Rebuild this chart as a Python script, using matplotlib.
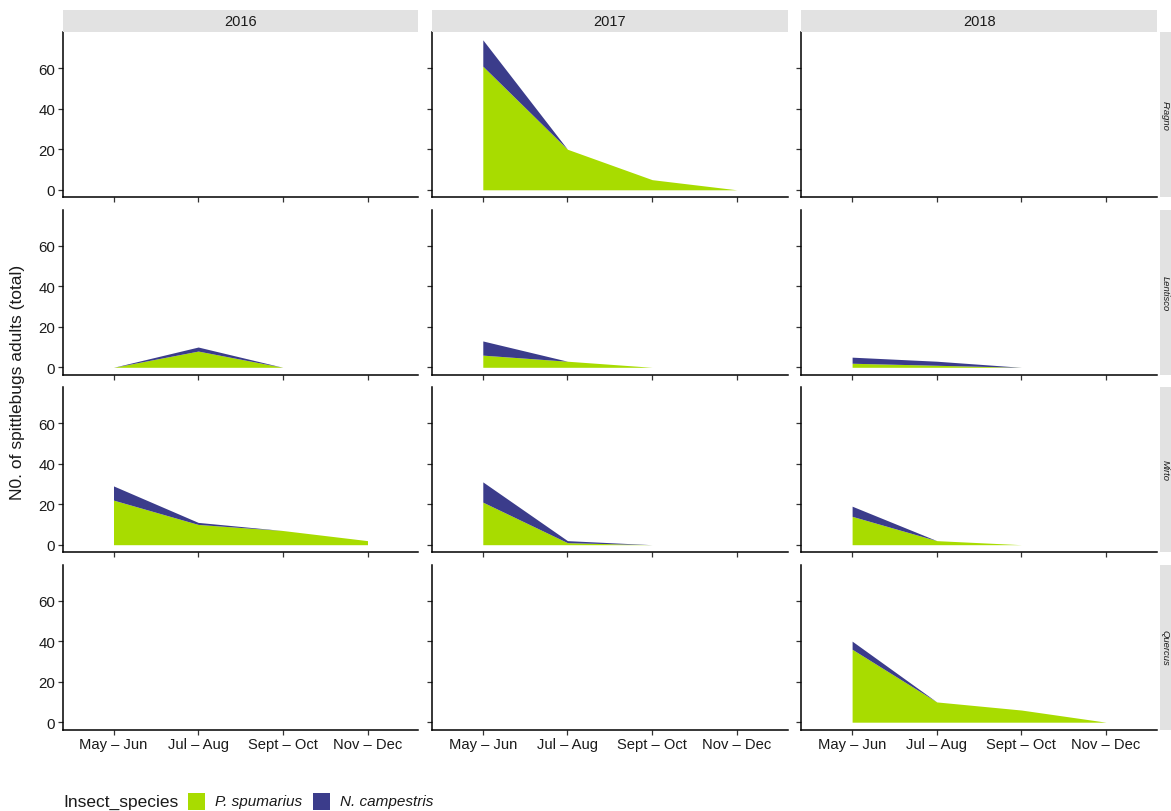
import numpy as np
import matplotlib
matplotlib.use("Agg")
import matplotlib.pyplot as plt
from matplotlib.patches import Rectangle

plt.rcParams['font.family'] = ['Liberation Sans', 'DejaVu Sans']

# ---------------- data ----------------
sites = ["Fragno", "Lentisco", "Mirto", "Quercus"]
years = ["2016", "2017", "2018"]
periods = ["May – Jun", "Jul – Aug", "Sept – Oct", "Nov – Dec"]
species = ["P. spumarius", "N. campestris"]
nan = np.nan

# P. spumarius counts per site/year (nan = no sample)
fragno_2017_p = [61, 20, 5, 0]
lentisco_2016_p = [0, 8, 0, nan]
lentisco_2017_p = [6, 3, 0, nan]
lentisco_2018_p = [2, 1, 0, nan]
mirto_2016_p = [22, 10, 7, 2]
mirto_2017_p = [21, 1, 0, nan]
mirto_2018_p = [14, 2, 0, nan]
quercus_2018_p = [36, 10, 6, 0]

# N. campestris counts per site/year
fragno_2017_n = [13, 0, 0, 0]
lentisco_2016_n = [0, 2, 0, nan]
lentisco_2017_n = [7, 0, 0, nan]
lentisco_2018_n = [3, 2, 0, nan]
mirto_2016_n = [7, 1, 0, 0]
mirto_2017_n = [10, 1, 0, nan]
mirto_2018_n = [5, 0, 0, nan]
quercus_2018_n = [4, 0, 0, 0]

data = {
    ("Fragno", "2017"): (fragno_2017_p, fragno_2017_n),
    ("Lentisco", "2016"): (lentisco_2016_p, lentisco_2016_n),
    ("Lentisco", "2017"): (lentisco_2017_p, lentisco_2017_n),
    ("Lentisco", "2018"): (lentisco_2018_p, lentisco_2018_n),
    ("Mirto", "2016"): (mirto_2016_p, mirto_2016_n),
    ("Mirto", "2017"): (mirto_2017_p, mirto_2017_n),
    ("Mirto", "2018"): (mirto_2018_p, mirto_2018_n),
    ("Quercus", "2018"): (quercus_2018_p, quercus_2018_n),
}

col_green = "#A8DC00"
col_blue = "#3B3C8B"
strip_col = "#E2E2E2"

W, H = 1171, 812
fig = plt.figure(figsize=(W / 100, H / 100), dpi=100)

col_x = [62.7, 432.0, 801.3]
pw = 355.6
row_y = [33.3, 210.8, 388.2, 565.7]
ph = 165.0


def fbox(x, y, w, h):
    return [x / W, 1 - (y + h) / H, w / W, h / H]


xpos = np.arange(1, len(periods) + 1)
for r, site in enumerate(sites):
    for c, yr in enumerate(years):
        ax = fig.add_axes(fbox(col_x[c], row_y[r], pw, ph))
        if (site, yr) in data:
            p, n = data[(site, yr)]
            p = np.array(p, dtype=float)
            n = np.array(n, dtype=float)
            m = ~np.isnan(p)
            x = xpos[m]
            ax.fill_between(x, 0, p[m], color=col_green, lw=0)
            ax.fill_between(x, p[m], p[m] + n[m], color=col_blue, lw=0)
        ax.set_xlim(0.4, 4.6)
        ax.set_ylim(-3.7, 77.7)
        ax.set_yticks([0, 20, 40, 60])
        ax.set_xticks(xpos)
        for s in ["top", "right"]:
            ax.spines[s].set_visible(False)
        for s in ["left", "bottom"]:
            ax.spines[s].set_linewidth(1.1)
            ax.spines[s].set_color("black")
        ax.tick_params(axis="both", direction="out", length=3.5, width=0.9,
                       color="#333333", labelsize=10.8, labelcolor="#1a1a1a", pad=2)
        if c == 0:
            ax.set_yticklabels(["0", "20", "40", "60"])
        else:
            ax.set_yticklabels([])
        if r == len(sites) - 1:
            ax.set_xticklabels(periods, fontsize=10.6)
        else:
            ax.set_xticklabels([])
        # top strips
        if r == 0:
            fig.patches.append(Rectangle((col_x[c] / W, 1 - 33.3 / H), pw / W, 22.6 / H,
                                         transform=fig.transFigure, color=strip_col,
                                         lw=0, zorder=0))
            fig.text((col_x[c] + pw / 2) / W, 1 - 22.0 / H, yr, ha="center",
                     va="center", fontsize=10.5, color="#1a1a1a")
    # right strips
    fig.patches.append(Rectangle((1159.5 / W, 1 - (row_y[r] + ph) / H), 14 / W, ph / H,
                                 transform=fig.transFigure, color=strip_col, lw=0, zorder=0))
    fig.text(1165.0 / W, 1 - (row_y[r] + ph / 2) / H, site, rotation=270,
             ha="center", va="center", fontsize=6.8, style="italic", color="#1a1a1a")

fig.text(18 / W, 1 - 382 / H, "N0. of spittlebugs adults (total)", rotation=90,
         ha="center", va="center", fontsize=12.5, color="#1a1a1a")

# legend
ly = 1 - 802 / H
fig.text(63 / W, ly, "Insect_species", ha="left", va="center", fontsize=12.5,
         color="#1a1a1a")
fig.patches.append(Rectangle((188 / W, 1 - 810.5 / H), 17 / W, 17 / H,
                             transform=fig.transFigure, color=col_green, lw=0))
fig.text(215 / W, ly, species[0], ha="left", va="center", fontsize=11,
         style="italic", color="#1a1a1a")
fig.patches.append(Rectangle((313 / W, 1 - 810.5 / H), 17 / W, 17 / H,
                             transform=fig.transFigure, color=col_blue, lw=0))
fig.text(340 / W, ly, species[1], ha="left", va="center", fontsize=11,
         style="italic", color="#1a1a1a")

fig.savefig("out.png", dpi=100, facecolor="white")
